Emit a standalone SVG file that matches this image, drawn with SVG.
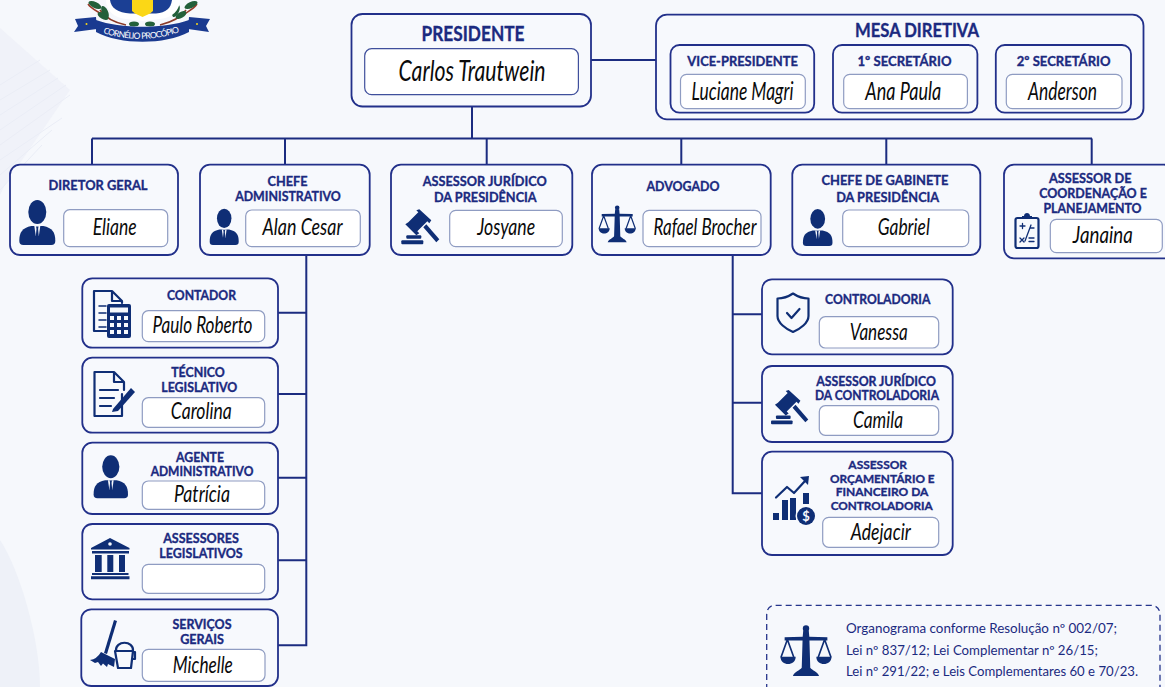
<svg xmlns="http://www.w3.org/2000/svg" xmlns:xlink="http://www.w3.org/1999/xlink" width="1165" height="687" viewBox="0 0 1165 687">
<style>
.box{fill:#f7f9fd;stroke:#22308a;stroke-width:1.800}
.inner{fill:#fff;stroke:#8f9cc2;stroke-width:1.200}
.innerd{fill:#fff;stroke:#3f4f9c;stroke-width:1.200}
.h{font-family:"Lato","Open Sans",sans-serif;font-weight:700;fill:#1b2a80;stroke:#1b2a80;stroke-width:.35;font-size:13px;text-anchor:middle}
.n{font-family:"Lato","Noto Sans",sans-serif;font-style:italic;fill:#0b0b0b;font-size:23px;text-anchor:middle}
.line{fill:none;stroke:#1c2c80;stroke-width:2}
.i{fill:#0f2e75}
.o{fill:none;stroke:#0f2e75;stroke-width:2.200;stroke-linejoin:round;stroke-linecap:round}
.note{font-family:"Lato","Noto Sans",sans-serif;font-size:13px;fill:#1b2a80}
</style>
<defs>
<symbol id="person" viewBox="0 0 36 45" overflow="visible">
<ellipse class="i" cx="18" cy="12" rx="9" ry="12"/>
<path class="i" d="M0 41C0 32 3 28 12 26H24C33 28 36 32 36 41Q36 45 32 45H4Q0 45 0 41Z"/>
<path fill="#f7f9fd" d="M15 26H21L19.500 36H16.500Z"/>
<path class="i" d="M16.800 26.500H19.200L18.800 29L19.500 36L18 38L16.500 36L17.200 29Z"/>
</symbol>
<symbol id="gavel" viewBox="0 0 38 35" overflow="visible">
<path class="i" d="M7 13L17 3L15 1L18 0L30 11L28 14L26 12L16 22L18 24L15 26L4 15Z"/>
<path class="i" d="M22 18L25 15L38 30L35 33Z"/>
<rect class="i" x="5" y="26" width="15" height="3.500" rx="1"/>
<rect class="i" x="0" y="31" width="22" height="4" rx="1"/>
</symbol>
<symbol id="scale" viewBox="0 0 37 37" overflow="visible">
<circle class="i" cx="18.500" cy="2.500" r="2.300"/>
<path class="i" d="M16.500 4H20.500L20.900 8.500L34 8.800V11.200H21L21.600 31C23 33 27 34 28 37H9C10 34 14 33 15.400 31L16 11.200H3V8.800L16.100 8.500Z"/>
<path class="o" style="stroke-width:1.200" d="M5 10.500L.5 23M5 10.500L9.500 23M32 10.500L27.500 23M32 10.500L36.500 23"/>
<path class="i" d="M0 23H11C11 30 0 30 0 23ZM26 23H37C37 30 26 30 26 23Z"/>
</symbol>
</defs>

<rect width="1165" height="687" fill="#f6f8fc"/>
<g id="background">
<path d="M0 28L70 90L5 185L0 195Z" fill="#f0f2f9"/>
<g stroke="#eaedf6" stroke-width="1" fill="none">
<path d="M0 85L40 60M0 100L50 70M0 115L58 78M0 130L66 85M0 145L70 95M0 160L62 118M0 175L52 130M0 190L42 145"/>
</g>
<path d="M0 540C20 570 40 640 40 687H0Z" fill="#eef1f8"/>
</g>

<g id="logo">
<path d="M88 4C92 10 100 12 104 16" fill="none" stroke="#9a3b2a" stroke-width="1.500"/>
<path d="M100 10C104 16 112 22 126 25" fill="none" stroke="#8a3b2a" stroke-width="1.500"/>
<path d="M197 4C193 10 186 12 182 16" fill="none" stroke="#9a3b2a" stroke-width="1.500"/>
<path d="M186 10C182 16 172 22 160 25" fill="none" stroke="#8a3b2a" stroke-width="1.500"/>
<g fill="#23603a">
<ellipse cx="95" cy="5" rx="7" ry="3" transform="rotate(25 95 5)"/>
<ellipse cx="105" cy="12" rx="3" ry="6.500" transform="rotate(-25 105 12)"/>
<ellipse cx="103" cy="16" rx="6" ry="3" transform="rotate(30 103 16)"/>
<ellipse cx="191" cy="5" rx="7" ry="3" transform="rotate(-25 191 5)"/>
<ellipse cx="176" cy="11" rx="3" ry="6.500" transform="rotate(25 176 11)"/>
<ellipse cx="181" cy="15" rx="6" ry="3" transform="rotate(-30 181 15)"/>
<ellipse cx="134" cy="24" rx="5" ry="2.500"/>
<ellipse cx="150" cy="24" rx="5" ry="2.500"/>
</g>
<path d="M106 0H180C180 10 172 18 160 19L143 21L126 19C114 18 106 10 106 0Z" fill="#fff"/>
<path d="M110 0H172C171 8 166 13 156 13.500H130C118 13 111 8 110 0Z" fill="#1b3f94"/>
<path d="M132 0H153V11L150 13.500L142.500 17L135 13.500L132 11Z" fill="#fbd716"/>
<path d="M75 19L96 17L97 29L74 32L78 26Z" fill="#1a3a90"/>
<path d="M210 19L189 17L188 29L209 32L206 26Z" fill="#1a3a90"/>
<path d="M96 20C120 29 165 29 189 20L189 32C165 45 120 45 96 32Z" fill="#1a3a90"/>
<path id="ribbon" d="M103 33C125 41 160 41 181 31" fill="none"/>
<text font-family="Lato,sans-serif" font-size="8.600" fill="#fff" textLength="78"><textPath href="#ribbon" startOffset="0">CORNÉLIO PROCÓPIO</textPath></text>
<circle cx="86.500" cy="24" r="1" fill="#fbd716"/><circle cx="197" cy="24" r="1" fill="#fbd716"/>
</g>

<g id="connectors" class="line">
<path d="M591 60H656"/>
<path d="M472 106V138.500"/>
<path d="M92 138.500H1092"/>
<path d="M92 138.500V165M285 138.500V165M486.700 138.500V165M681.300 138.500V165M886.300 138.500V165M1091.700 138.500V165"/>
<path d="M306.300 255V645.300H278M278 312.700H306.300M278 394H306.300M278 477.700H306.300M278 560.300H306.300"/>
<path d="M732.700 255V493.300H762M732.700 314.300H762M732.700 402.700H762"/>
</g>

<g id="presidente">
<rect class="box" x="351.500" y="14" width="239.500" height="92.500" rx="11"/>
<rect class="innerd" x="364.700" y="48.700" width="213.700" height="46" rx="7"/>
<text class="h" x="473" y="40.500" style="font-size:21px" textLength="103" lengthAdjust="spacingAndGlyphs">PRESIDENTE</text>
<text class="n" x="472" y="81" style="font-size:28px" textLength="147" lengthAdjust="spacingAndGlyphs">Carlos Trautwein</text>
</g>

<g id="mesa-diretiva">
<rect class="box" x="656" y="14.700" width="487.500" height="104.600" rx="11"/>
<text class="h" x="917" y="37" style="font-size:19px" textLength="124" lengthAdjust="spacingAndGlyphs">MESA DIRETIVA</text>
</g>
<g id="vice-presidente">
<rect class="box" x="670.500" y="45" width="143.700" height="67.700" rx="9"/>
<rect class="inner" x="680.500" y="74.300" width="124.800" height="34.400" rx="6"/>
<text class="h" x="742.600" y="66" style="font-size:14px" textLength="110.500" lengthAdjust="spacingAndGlyphs">VICE-PRESIDENTE</text>
<text class="n" x="742.600" y="100" style="font-size:25px" textLength="102" lengthAdjust="spacingAndGlyphs">Luciane Magri</text>
</g>
<g id="primeiro-secretario">
<rect class="box" x="833" y="45" width="144.400" height="67.700" rx="9"/>
<rect class="inner" x="843.700" y="74.300" width="123.700" height="34.400" rx="6"/>
<text class="h" x="904.500" y="66" style="font-size:14px" textLength="94" lengthAdjust="spacingAndGlyphs">1º SECRETÁRIO</text>
<text class="n" x="903.300" y="100" style="font-size:25px" textLength="76" lengthAdjust="spacingAndGlyphs">Ana Paula</text>
</g>
<g id="segundo-secretario">
<rect class="box" x="995.800" y="45" width="135.200" height="67.700" rx="9"/>
<rect class="inner" x="1006.300" y="74.300" width="115.700" height="34.400" rx="6"/>
<text class="h" x="1063.600" y="66" style="font-size:14px" textLength="93.700" lengthAdjust="spacingAndGlyphs">2º SECRETÁRIO</text>
<text class="n" x="1062.500" y="100" style="font-size:25px" textLength="69" lengthAdjust="spacingAndGlyphs">Anderson</text>
</g>

<g id="diretor-geral">
<rect class="box" x="10" y="164.700" width="168" height="90.300" rx="10"/>
<rect class="inner" x="63.700" y="209.700" width="104" height="37" rx="6"/>
<text class="h" x="98" y="190.300" style="font-size:14px" textLength="99" lengthAdjust="spacingAndGlyphs">DIRETOR GERAL</text>
<use href="#person" x="19.300" y="200" width="36" height="45"/>
<text class="n" x="114.700" y="235" textLength="44" lengthAdjust="spacingAndGlyphs">Eliane</text>
</g>
<g id="chefe-administrativo">
<rect class="box" x="200" y="164.700" width="169.700" height="90.300" rx="10"/>
<rect class="inner" x="245.700" y="210" width="114.600" height="36.700" rx="6"/>
<text class="h" x="287.500" y="186" style="font-size:14px" textLength="40" lengthAdjust="spacingAndGlyphs">CHEFE</text>
<text class="h" x="288" y="201.300" style="font-size:14px" textLength="105.700" lengthAdjust="spacingAndGlyphs">ADMINISTRATIVO</text>
<use href="#person" x="209.700" y="208.300" width="29" height="37"/>
<text class="n" x="302.500" y="235" textLength="80" lengthAdjust="spacingAndGlyphs">Alan Cesar</text>
</g>
<g id="assessor-juridico-presidencia">
<rect class="box" x="391" y="164.700" width="181.300" height="90.300" rx="10"/>
<rect class="inner" x="449.700" y="210.300" width="112.600" height="36.400" rx="6"/>
<text class="h" x="484.700" y="185.700" style="font-size:14px" textLength="124" lengthAdjust="spacingAndGlyphs">ASSESSOR JURÍDICO</text>
<text class="h" x="485.300" y="201.700" style="font-size:14px" textLength="102.700" lengthAdjust="spacingAndGlyphs">DA PRESIDÊNCIA</text>
<use href="#gavel" x="401.300" y="209.300" width="38" height="35"/>
<text class="n" x="506.200" y="235" textLength="58" lengthAdjust="spacingAndGlyphs">Josyane</text>
</g>
<g id="advogado">
<rect class="box" x="592" y="164.700" width="178.700" height="90.300" rx="10"/>
<rect class="inner" x="643" y="210.300" width="118" height="36.400" rx="6"/>
<text class="h" x="683" y="190.700" style="font-size:14px" textLength="73" lengthAdjust="spacingAndGlyphs">ADVOGADO</text>
<use href="#scale" x="598.700" y="205.300" width="37" height="37"/>
<text class="n" x="705" y="235" textLength="103" lengthAdjust="spacingAndGlyphs">Rafael Brocher</text>
</g>
<g id="chefe-gabinete">
<rect class="box" x="792.300" y="164.700" width="188" height="90.300" rx="10"/>
<rect class="inner" x="842.700" y="210" width="126" height="36.700" rx="6"/>
<text class="h" x="885" y="185" style="font-size:14px" textLength="127" lengthAdjust="spacingAndGlyphs">CHEFE DE GABINETE</text>
<text class="h" x="887.700" y="201.700" style="font-size:14px" textLength="103" lengthAdjust="spacingAndGlyphs">DA PRESIDÊNCIA</text>
<use href="#person" x="802.700" y="209" width="30" height="37"/>
<text class="n" x="903.800" y="235" textLength="52" lengthAdjust="spacingAndGlyphs">Gabriel</text>
</g>
<g id="assessor-coordenacao">
<rect class="box" x="1004" y="164.700" width="170" height="93.600" rx="10"/>
<rect class="inner" x="1050.300" y="219.300" width="112" height="33.400" rx="6"/>
<text class="h" x="1090.300" y="183.300" style="font-size:13px" textLength="82.700" lengthAdjust="spacingAndGlyphs">ASSESSOR DE</text>
<text class="h" x="1093" y="198" style="font-size:13px" textLength="107.700" lengthAdjust="spacingAndGlyphs">COORDENAÇÃO E</text>
<text class="h" x="1092.500" y="212.700" style="font-size:13px" textLength="98" lengthAdjust="spacingAndGlyphs">PLANEJAMENTO</text>
<rect class="o" x="1015.500" y="218" width="23" height="30" rx="2"/>
<path class="i" d="M1022 219V216H1024C1024 212 1030 212 1030 216H1032V219Z"/>
<path class="o" style="stroke-width:1.300" d="M1020 226H1025M1022.500 223.500V228.500M1025 241L1031 225M1030 228H1034M1020 238L1024 242M1024 238L1020 242M1029 238H1034M1029 241.500H1034"/>
<text class="n" x="1102.800" y="242.700" textLength="60" lengthAdjust="spacingAndGlyphs">Janaina</text>
</g>

<g id="contador">
<rect class="box" x="82.300" y="278.300" width="195.700" height="69.400" rx="10"/>
<rect class="inner" x="142.300" y="310.700" width="122.400" height="31" rx="6"/>
<text class="h" x="201.500" y="300" textLength="69" lengthAdjust="spacingAndGlyphs">CONTADOR</text>
<path class="o" d="M107 331H94V291H112L122 301V303M112 291V301H122"/>
<path class="o" style="stroke-width:1.500" d="M99 306H106M99 313H106M99 320H106M99 327H106"/>
<rect class="i" x="107" y="304" width="24" height="34" rx="2"/>
<rect x="110" y="307.500" width="18" height="5" fill="#f7f9fd"/>
<path fill="#f7f9fd" d="M110 316h4v4h-4zM117 316h4v4h-4zM124 316h4v4h-4zM110 323h4v4h-4zM117 323h4v4h-4zM124 323h4v4h-4zM110 330h4v4h-4zM117 330h4v4h-4zM124 330h4v4h-4z"/>
<text class="n" x="202.500" y="333" textLength="100" lengthAdjust="spacingAndGlyphs">Paulo Roberto</text>
</g>
<g id="tecnico-legislativo">
<rect class="box" x="82.300" y="357.700" width="195.700" height="75" rx="10"/>
<rect class="inner" x="142.300" y="397.700" width="122.400" height="29.600" rx="6"/>
<text class="h" x="198" y="377.300" textLength="53.700" lengthAdjust="spacingAndGlyphs">TÉCNICO</text>
<text class="h" x="199.300" y="392.300" textLength="76" lengthAdjust="spacingAndGlyphs">LEGISLATIVO</text>
<path class="o" d="M122 394V416H94.500V372H114L124 382V390M114 372V382H124"/>
<path class="o" d="M100 390H118M100 398H114M100 406H111"/>
<path class="i" d="M113 409L131 388L135 392L118 411L112 412Z"/>
<text class="n" x="201.300" y="419" textLength="61" lengthAdjust="spacingAndGlyphs">Carolina</text>
</g>
<g id="agente-administrativo">
<rect class="box" x="82.300" y="442.700" width="195.700" height="71.300" rx="10"/>
<rect class="inner" x="142.300" y="481" width="122.400" height="28.300" rx="6"/>
<text class="h" x="200" y="461.700" textLength="48" lengthAdjust="spacingAndGlyphs">AGENTE</text>
<text class="h" x="202" y="476" textLength="102.700" lengthAdjust="spacingAndGlyphs">ADMINISTRATIVO</text>
<use href="#person" x="93.300" y="455.300" width="35" height="43"/>
<text class="n" x="202" y="502" textLength="56" lengthAdjust="spacingAndGlyphs">Patrícia</text>
</g>
<g id="assessores-legislativos">
<rect class="box" x="82.300" y="524" width="195.700" height="75.300" rx="10"/>
<rect class="inner" x="142.300" y="564.300" width="122.400" height="29" rx="6"/>
<text class="h" x="201" y="543" textLength="75.700" lengthAdjust="spacingAndGlyphs">ASSESSORES</text>
<text class="h" x="201" y="557.700" textLength="83.300" lengthAdjust="spacingAndGlyphs">LEGISLATIVOS</text>
<path class="i" d="M110 538L129.500 548V549.500H91V548ZM92 551H129V553.500H92ZM95 555H101.700V572H95ZM107.300 555H113.300V572H107.300ZM119 555H125V572H119ZM92 573H128.500V575H92ZM91 576.300H129.500V579.300H91Z"/>
<circle cx="110" cy="544" r="1.800" fill="#f7f9fd"/>
</g>
<g id="servicos-gerais">
<rect class="box" x="81.300" y="609.300" width="196.700" height="76.700" rx="10"/>
<rect class="inner" x="142.300" y="649.300" width="122.700" height="32" rx="6"/>
<text class="h" x="202" y="629" textLength="59" lengthAdjust="spacingAndGlyphs">SERVIÇOS</text>
<text class="h" x="202" y="644" textLength="43.700" lengthAdjust="spacingAndGlyphs">GERAIS</text>
<path class="i" d="M114 620L117 621L107 654L104 653Z"/>
<path class="i" d="M101 652L115 659L114 667L108 664L107 667L103 663.500L101 666L98 662L95 663L90 660Q97 659 101 652Z"/>
<path class="o" d="M115 651H133L131 668H118ZM116 651C115 640 134 640 133 651M133 652H135V659H132"/>
<text class="n" x="202.800" y="672.700" textLength="60" lengthAdjust="spacingAndGlyphs">Michelle</text>
</g>

<g id="controladoria">
<rect class="box" x="762" y="279.300" width="190.700" height="75" rx="10"/>
<rect class="inner" x="819.300" y="316.700" width="119.400" height="31.300" rx="6"/>
<text class="h" x="877.700" y="303.700" textLength="105.300" lengthAdjust="spacingAndGlyphs">CONTROLADORIA</text>
<path class="o" d="M793 293.500C787 297.500 783 298.500 777.500 298.500V316C777.500 323 786 329 793 332C800 329 808.500 323 808.500 316V298.500C803 298.500 799 297.500 793 293.500Z"/>
<path class="o" d="M787 313L791.500 318L799.500 309"/>
<text class="n" x="878.800" y="340" textLength="58" lengthAdjust="spacingAndGlyphs">Vanessa</text>
</g>
<g id="assessor-juridico-controladoria">
<rect class="box" x="762" y="366" width="190.700" height="76" rx="10"/>
<rect class="inner" x="819.300" y="405.700" width="119.400" height="29.600" rx="6"/>
<text class="h" x="876" y="385.700" textLength="119.700" lengthAdjust="spacingAndGlyphs">ASSESSOR JURÍDICO</text>
<text class="h" x="877" y="400" textLength="124" lengthAdjust="spacingAndGlyphs">DA CONTROLADORIA</text>
<use href="#gavel" x="771" y="390" width="37.300" height="34.300"/>
<text class="n" x="878" y="427.700" textLength="50" lengthAdjust="spacingAndGlyphs">Camila</text>
</g>
<g id="assessor-orcamentario">
<rect class="box" x="762" y="451.700" width="190.700" height="103.300" rx="10"/>
<rect class="inner" x="822.700" y="517.300" width="116" height="30" rx="6"/>
<text class="h" x="877.700" y="468.500" style="font-size:12px" textLength="58.700" lengthAdjust="spacingAndGlyphs">ASSESSOR</text>
<text class="h" x="882.300" y="482.500" style="font-size:12px" textLength="104.700" lengthAdjust="spacingAndGlyphs">ORÇAMENTÁRIO E</text>
<text class="h" x="882" y="496" style="font-size:12px" textLength="92.700" lengthAdjust="spacingAndGlyphs">FINANCEIRO DA</text>
<text class="h" x="881.700" y="509.500" style="font-size:12px" textLength="102" lengthAdjust="spacingAndGlyphs">CONTROLADORIA</text>
<path class="o" d="M776 497.500L787 487L794 493L805 481"/>
<path class="i" d="M800 477L809 476L808 485Z"/>
<path class="i" d="M773 513H779V520H773ZM782 500H788V520H782ZM790 498H796V520H790ZM803 493H809V504H803Z"/>
<circle cx="806" cy="516" r="10.500" fill="#f7f9fd"/>
<circle class="i" cx="806" cy="516" r="9"/>
<text x="806" y="520.500" font-family="Lato,sans-serif" font-weight="700" font-size="13" fill="#f7f9fd" text-anchor="middle">$</text>
<text class="n" x="880.800" y="540" textLength="60" lengthAdjust="spacingAndGlyphs">Adejacir</text>
</g>

<g id="nota">
<path d="M766.700 690V615Q766.700 605.300 776 605.300H1150Q1160 605.300 1160 615V690" fill="none" stroke="#26358c" stroke-width="1.300" stroke-dasharray="6 4"/>
<use href="#scale" x="779" y="625" width="54" height="51"/>
<text class="note" x="846" y="633.300" textLength="271" lengthAdjust="spacingAndGlyphs">Organograma conforme Resolução nº 002/07;</text>
<text class="note" x="846" y="655" textLength="252" lengthAdjust="spacingAndGlyphs">Lei nº 837/12; Lei Complementar nº 26/15;</text>
<text class="note" x="846" y="675.500" textLength="292" lengthAdjust="spacingAndGlyphs">Lei nº 291/22; e Leis Complementares 60 e 70/23.</text>
</g>
</svg>
